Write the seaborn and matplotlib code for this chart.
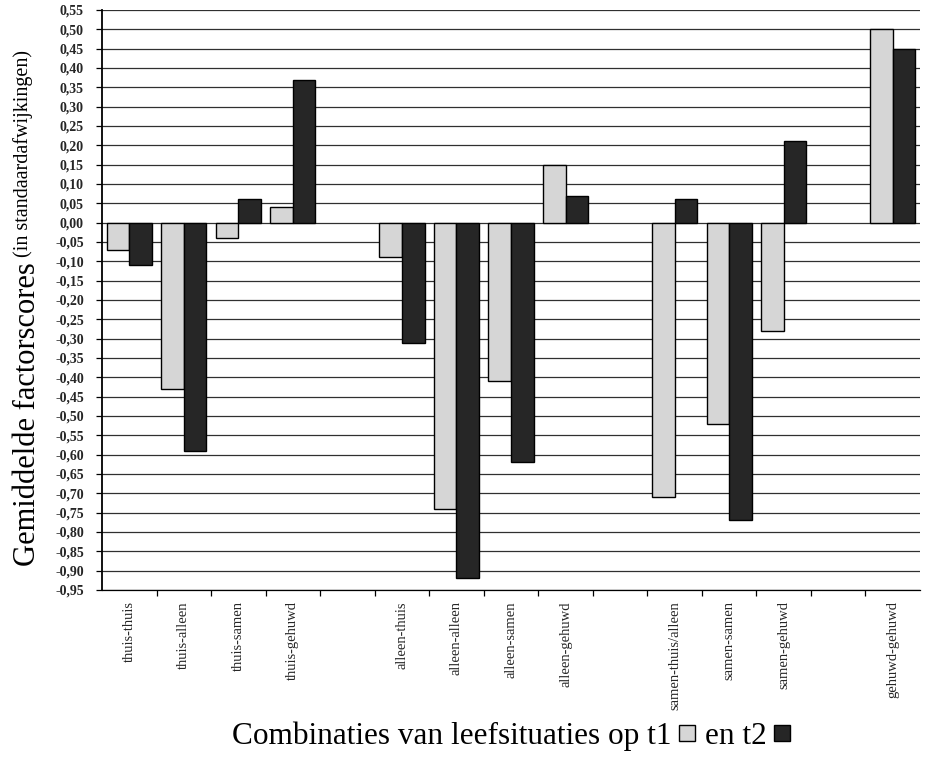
import matplotlib
matplotlib.use("Agg")
import matplotlib.pyplot as plt
import seaborn as sns
import pandas as pd
import numpy as np
from matplotlib.patches import Rectangle
from matplotlib.ticker import FixedLocator

# ---- data ----
categories = ["thuis-thuis", "thuis-alleen", "thuis-samen", "thuis-gehuwd",
              "alleen-thuis", "alleen-alleen", "alleen-samen", "alleen-gehuwd",
              "samen-thuis/alleen", "samen-samen", "samen-gehuwd",
              "gehuwd-gehuwd"]
t1_values = [-0.07, -0.43, -0.04, 0.04,
             -0.09, -0.74, -0.41, 0.15,
             -0.71, -0.52, -0.28,
             0.50]
t2_values = [-0.11, -0.59, 0.06, 0.37,
             -0.31, -0.92, -0.62, 0.07,
             0.06, -0.77, 0.21,
             0.45]
# order with empty slots between the groups
slot_order = ["thuis-thuis", "thuis-alleen", "thuis-samen", "thuis-gehuwd", " ",
              "alleen-thuis", "alleen-alleen", "alleen-samen", "alleen-gehuwd", "  ",
              "samen-thuis/alleen", "samen-samen", "samen-gehuwd", "   ",
              "gehuwd-gehuwd"]
y_ticks = [round(-0.95 + 0.05 * i, 2) for i in range(31)]

df = pd.DataFrame({
    "combinatie": categories * 2,
    "tijd": ["t1"] * len(categories) + ["t2"] * len(categories),
    "score": t1_values + t2_values,
})

light = "#d6d6d6"
dark = "#262626"

sns.set_theme(style="white")
plt.rcParams["font.family"] = ["Liberation Serif", "DejaVu Serif"]

fig = plt.figure(figsize=(9.25, 7.58), dpi=100)
W, H = 925, 758
ax = fig.add_axes([102 / W, 1 - 590 / H, (920 - 102) / W, (590 - 10) / H])

# grid lines
for yv in y_ticks:
    ax.axhline(yv, color="#303030", lw=0.9, zorder=0)

sns.barplot(data=df, x="combinatie", y="score", hue="tijd", order=slot_order,
            hue_order=["t1", "t2"], palette=[light, dark], width=0.83,
            edgecolor="black", linewidth=1.0, legend=False, ax=ax, zorder=3)

ax.set_xlim(-0.5, len(slot_order) - 0.5)
ax.set_ylim(-0.95, 0.55)
ax.set_yticks(y_ticks)
ax.set_yticklabels([("%.2f" % v).replace(".", ",").replace("-0,00", "0,00") for v in y_ticks],
                   fontsize=10, fontweight="bold")
ax.set_xticks(range(len(slot_order)))
ax.set_xticklabels(slot_order, rotation=90, fontsize=10.5, va="top")
ax.xaxis.set_minor_locator(FixedLocator([i + 0.5 for i in range(len(slot_order) - 1)]))
ax.tick_params(axis="x", which="major", length=0, pad=8)
ax.tick_params(axis="x", which="minor", length=4, width=0.9, color="black", direction="out", bottom=True)
ax.tick_params(axis="y", length=4, width=0.9, color="black", direction="out", left=True, pad=9)

for s in ["top", "right"]:
    ax.spines[s].set_visible(False)
ax.spines["left"].set_color("black")
ax.spines["left"].set_linewidth(1.3)
ax.spines["bottom"].set_color("black")
ax.spines["bottom"].set_linewidth(0.9)
ax.set_xlabel("")
ax.set_ylabel("")

fig.canvas.draw()
renderer = fig.canvas.get_renderer()

# ---- y label: two sizes ----
main = fig.text(35 / W, 1 - 566 / H, "Gemiddelde factorscores", rotation=90,
                rotation_mode="anchor", ha="left", va="baseline", fontsize=22, color="black")
fig.canvas.draw()
bb = main.get_window_extent(renderer)
top_px = bb.y1 + 5
fig.text(28 / W, top_px / H, "(in standaardafwijkingen)", rotation=90,
         rotation_mode="anchor", ha="left", va="baseline", fontsize=14.5, color="black")

# ---- x label with colour keys ----
ybase = 1 - 744 / H
part1 = fig.text(0, ybase, "Combinaties van leefsituaties op t1", fontsize=22.5,
                 ha="left", va="baseline", color="black")
part2 = fig.text(0, ybase, "en t2", fontsize=22.5, ha="left", va="baseline", color="black")
fig.canvas.draw()
w1 = part1.get_window_extent(renderer).width
w2 = part2.get_window_extent(renderer).width
sq = 16
gap_a = 7
gap_b = 10
total = w1 + gap_a + sq + gap_b + w2 + gap_a + sq
x0 = (102 + 920) / 2 - total / 2
part1.set_x(x0 / W)
xs1 = x0 + w1 + gap_a
part2.set_x((xs1 + sq + gap_b) / W)
xs2 = xs1 + sq + gap_b + w2 + gap_a
sq_bottom = 741
for xs, col in [(xs1, light), (xs2, dark)]:
    fig.add_artist(Rectangle((xs / W, 1 - sq_bottom / H), sq / W, sq / H,
                             transform=fig.transFigure, facecolor=col,
                             edgecolor="black", lw=1.0))

fig.savefig("out.png", dpi=100)
